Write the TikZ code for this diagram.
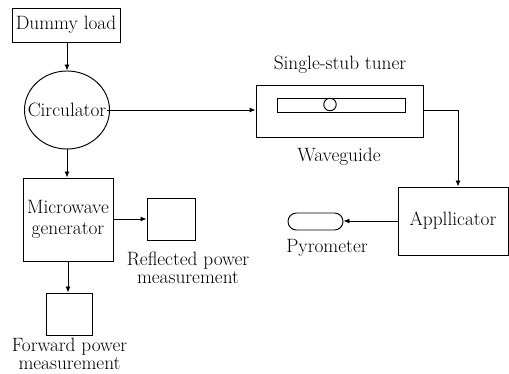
\documentclass[tikz,border=0pt]{standalone}
\usetikzlibrary{arrows.meta,shapes.geometric,shapes.misc,calc}
\begin{document}
\begin{tikzpicture}[x=1pt,y=-1pt,
  every node/.style={font=\rmfamily\fontsize{19.3}{18}\selectfont},
  blk/.style={draw,line width=0.95pt,inner sep=0pt,rectangle},
  lbl/.style={inner sep=0pt,align=center},
  conn/.style={line width=0.95pt,-{Latex[length=6pt,width=5pt]}}]
\useasboundingbox (0,0) rectangle (509,374);
\clip (0,0) rectangle (509,374);
\fill[white] (0,0) rectangle (509,374);
% nodes
\node[blk,minimum width=108pt,minimum height=34pt] (dummy) at (66,25) {Dummy load};
\node[draw,line width=0.95pt,ellipse,inner sep=0pt,minimum width=85pt,minimum height=78pt] (circ) at (67,110) {};
\node[lbl,fill=white,inner sep=0.3pt] (circtext) at (67,110) {Circulator};
\node[blk,minimum width=90pt,minimum height=83pt,align=center,font=\rmfamily\fontsize{19.3}{21}\selectfont] (gen) at (68,219.5) {Microwave\\generator};
\node[blk,minimum width=48pt,minimum height=42pt] (refl) at (171,219) {};
\node[blk,minimum width=46pt,minimum height=42pt] (fwd) at (69,314) {};
\node[blk,minimum width=167pt,minimum height=52pt] (tuner) at (339.5,111) {};
\node[blk,minimum width=128pt,minimum height=14pt] (slot) at (341,105) {};
\node[draw,line width=0.95pt,circle,fill=white,inner sep=0pt,minimum size=12.5pt] (stub) at (330,104.5) {};
\node[blk,minimum width=110pt,minimum height=68pt] (app) at (453,221) {Appllicator};
\node[draw,line width=0.95pt,rounded rectangle,inner sep=0pt,minimum width=55pt,minimum height=17pt] (pyro) at (315.5,221.5) {};
% labels
\node[lbl] (tunerlbl) at (340,65) {Single-stub tuner};
\node[lbl] (wglbl) at (339,157) {Waveguide};
\node[lbl] (pyrolbl) at (327,248) {Pyrometer};
\node[lbl,anchor=north] (refllbl) at (188,252) {Reflected power\\measurement};
\node[lbl,anchor=north] (fwdlbl) at (69.5,338) {Forward power\\measurement};
% connectors
\draw[conn] (dummy.south -| circ.north) -- (circ.north);
\draw[conn] (circtext.east) -- (circtext.east -| tuner.west);
\draw[conn] (circ.south) -- (circ.south |- gen.north);
\draw[conn] (gen.east |- refl.west) -- (refl.west);
\draw[conn] (gen.south) -- (gen.south |- fwd.north);
\coordinate (turn) at ([xshift=5pt]app.north);
\draw[conn] ([yshift=1pt]tuner.east) -| (turn);
\draw[conn] (app.west) -- (app.west -| pyro.east);
\end{tikzpicture}
\end{document}
